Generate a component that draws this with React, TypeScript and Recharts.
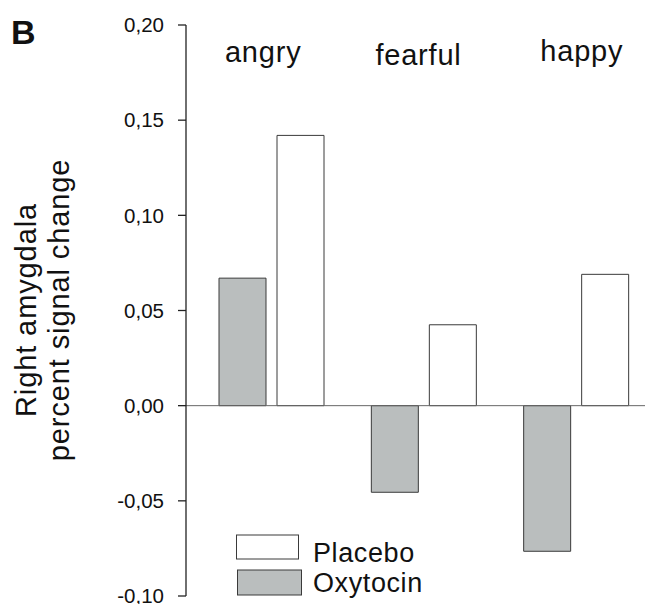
import { BarChart, Bar, XAxis, YAxis, ReferenceLine, Legend } from 'recharts';

const categories = ['angry', 'fearful', 'happy'];
const oxytocin = [0.067, -0.0455, -0.0765];
const placebo = [0.142, 0.0425, 0.069];
const yTicks = [-0.1, -0.05, 0, 0.05, 0.1, 0.15, 0.2];

const data = categories.map((emotion, i) => ({
  emotion,
  Oxytocin: oxytocin[i],
  Placebo: placebo[i],
}));

const FONT = 'Liberation Sans, Arial, sans-serif';
const GRAY = '#babebe';
const EDGE = '#3a3a3a';

// hand placement of the category titles, as in the figure
const titleNudge = [
  { dx: -8, y: 62 },
  { dx: -5, y: 65 },
  { dx: 6, y: 61 },
];

const CategoryTick = (props: any) => {
  const { x, payload, index } = props;
  const n = titleNudge[index] || { dx: 0, y: 62 };
  return (
    <text
      x={x + n.dx}
      y={n.y}
      textAnchor="middle"
      fontFamily={FONT}
      fontSize={29}
      letterSpacing={0.8}
      fill="#111"
    >
      {payload.value}
    </text>
  );
};

const AxisTitle = () => (
  <g>
    <text x={11} y={44} fontFamily={FONT} fontSize={34} fontWeight="bold" fill="#111">
      B
    </text>
    <text
      x={36}
      y={310}
      transform="rotate(-90 36 310)"
      textAnchor="middle"
      fontFamily={FONT}
      fontSize={29}
      letterSpacing={0.9}
      fill="#111"
    >
      <tspan x={36} dy={0}>Right amygdala</tspan>
      <tspan x={36} dy={33}>percent signal change</tspan>
    </text>
  </g>
);

const renderLegend = (props: any) => {
  const items = [...(props.payload || [])].reverse();
  return (
    <svg width={200} height={70} style={{ display: 'block' }}>
      {items.map((item: any, i: number) => (
        <g key={item.value}>
          <rect
            x={0.5 + i}
            y={2 + i * 35}
            width={62 + i * 2}
            height={24 + i}
            fill={item.color}
            stroke={EDGE}
            strokeWidth={1}
          />
          <text x={77} y={29 + i * 30} fontFamily={FONT} fontSize={27} letterSpacing={0.6} fill="#111">
            {item.value}
          </text>
        </g>
      ))}
    </svg>
  );
};

export default function App() {
  return (
    <div style={{ position: 'absolute', left: 0, top: 0, width: 645, height: 604, background: '#fff' }}>
      <BarChart
        width={645}
        height={604}
        data={data}
        margin={{ top: 0, right: -7, bottom: 8, left: 0 }}
        barSize={47}
        barGap={11}
      >
        <XAxis
          dataKey="emotion"
          orientation="top"
          height={25}
          axisLine={false}
          tickLine={false}
          interval={0}
          padding={{ left: 9, right: 0 }}
          tick={<CategoryTick />}
        />
        <YAxis
          width={186}
          domain={[-0.1, 0.2]}
          ticks={yTicks}
          interval={0}
          tickFormatter={(v: number) => v.toFixed(2).replace('.', ',')}
          tickSize={8}
          tickMargin={14}
          axisLine={{ stroke: '#222', strokeWidth: 1.3 }}
          tickLine={{ stroke: '#222', strokeWidth: 1.3 }}
          tick={{ fontFamily: FONT, fontSize: 20.5, fill: '#111' }}
          label={{ content: AxisTitle }}
        />
        <ReferenceLine y={0} stroke="#666" strokeWidth={1} />
        <Legend
          layout="vertical"
          align="center"
          verticalAlign="middle"
          content={renderLegend}
          wrapperStyle={{ position: 'absolute', left: 236, top: 533, width: 200 }}
        />
        <Bar dataKey="Oxytocin" name="Oxytocin" fill={GRAY} stroke={EDGE} strokeWidth={1} isAnimationActive={false} />
        <Bar dataKey="Placebo" name="Placebo" fill="#ffffff" stroke={EDGE} strokeWidth={1} isAnimationActive={false} />
      </BarChart>
    </div>
  );
}
